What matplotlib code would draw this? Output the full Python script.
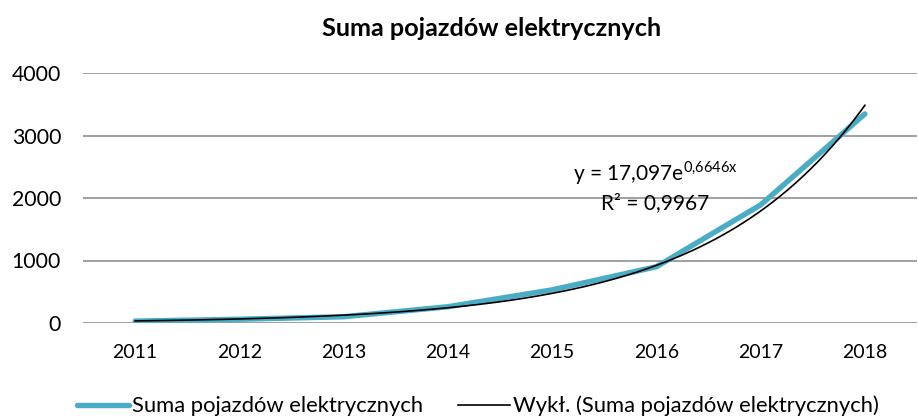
import numpy as np
import matplotlib
matplotlib.use("Agg")
from matplotlib import pyplot as plt

# dane
lata = ["2011", "2012", "2013", "2014", "2015", "2016", "2017", "2018"]
suma = [30, 60, 100, 260, 530, 900, 1890, 3345]

# trend wykladniczy (z rownania na wykresie)
trend_a = 17.097
trend_b = 0.6646
rownanie = r"y = 17,097e$^{\mathregular{0{,}6646x}}$"
r2 = "R² = 0,9967"

plt.rcParams['font.family'] = ['Lato', 'DejaVu Sans']
plt.rcParams['mathtext.fontset'] = 'custom'
plt.rcParams['mathtext.rm'] = 'Lato'

fig = plt.figure(figsize=(9.18, 4.18), dpi=100)
ax = fig.add_axes([83/918, 1-323/418, 834/918, 250/418])

x = np.arange(len(lata))
ax.plot(x, suma, color="#4BACC6", linewidth=3.9, solid_capstyle="round",
        label="Suma pojazdów elektrycznych", zorder=3)

# linia trendu (Excel: x = 1..n)
xt = np.linspace(0, len(lata)-1, 200)
ax.plot(xt, trend_a*np.exp(trend_b*(xt+1)), color="black", linewidth=1.2,
        label="Wykł. (Suma pojazdów elektrycznych)", zorder=4)

ax.set_xlim(-0.5, len(lata)-0.5)
ax.set_ylim(0, 4000)
ax.set_yticks([0, 1000, 2000, 3000, 4000])
ax.set_xticks(x)
ax.set_xticklabels(lata)
ax.yaxis.grid(True, color="#868686", linewidth=1.1)
ax.set_axisbelow(True)
for s in ax.spines.values():
    s.set_visible(False)
ax.tick_params(length=0, colors="black")
ax.tick_params(axis="y", pad=15.8, labelsize=15.3)
ax.tick_params(axis="x", pad=15, labelsize=14)

ax.text(4.99, 2400, rownanie, ha="center", va="center", fontsize=15)
ax.text(4.99, 1920, r2, ha="center", va="center", fontsize=15)

fig.text(492/918, 1-28/418, "Suma pojazdów elektrycznych", ha="center", va="center",
         fontsize=18.2, fontweight="bold")

fig.legend(loc="center", bbox_to_anchor=(478/918, 1-406/418), ncol=2, frameon=False,
           fontsize=15.8, handlelength=2.37, handletextpad=0.15, columnspacing=1.55)

fig.savefig("out.png", dpi=100)
